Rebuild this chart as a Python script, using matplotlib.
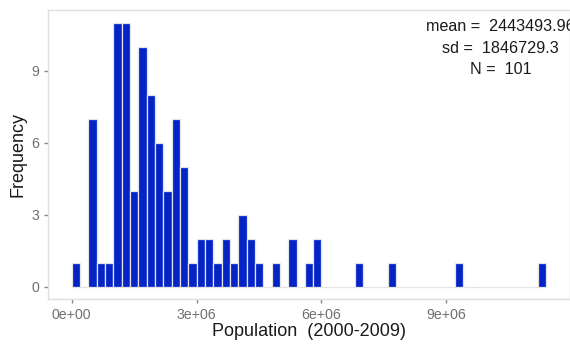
import matplotlib.pyplot as plt

plt.rcParams['font.family'] = ['Liberation Sans', 'DejaVu Sans']

# histogram of population, bins of 200,000 starting at 0
bin_width = 200000
counts = [1, 0, 7, 1, 1, 11, 11, 4, 10, 8, 6, 4, 7, 5, 1, 2, 2, 1, 2, 1,
          3, 2, 1, 0, 1, 0, 2, 0, 1, 2, 0, 0, 0, 0, 1, 0, 0, 0, 1, 0,
          0, 0, 0, 0, 0, 0, 1, 0, 0, 0, 0, 0, 0, 0, 0, 0, 1]
bin_starts = [i * bin_width for i in range(len(counts))]

y_ticks = [0, 3, 6, 9]
x_ticks = [0, 3e6, 6e6, 9e6]
x_tick_labels = ['0e+00', '3e+06', '6e+06', '9e+06']

stats_lines = ['mean =  2443493.96', 'sd =  1846729.3', 'N =  101']

fig = plt.figure(figsize=(5.7, 3.47), dpi=100)
ax = fig.add_axes([0.0842, 0.1383, 0.9158, 0.8315])

ax.bar(bin_starts, counts, width=bin_width, align='edge',
       color='#0524c8', edgecolor='#e4e4e4', linewidth=0.9)

ax.set_xlim(-0.57e6, 11.97e6)
ax.set_ylim(-0.5, 11.5)

ax.set_xticks(x_ticks)
ax.set_xticklabels(x_tick_labels)
ax.set_yticks(y_ticks)

for s in ax.spines.values():
    s.set_color('#dedede')
    s.set_linewidth(1.0)

ax.tick_params(axis='both', colors='#8a8a8a', labelcolor='#707070',
               labelsize=10.2, length=3, width=1)

ax.set_xlabel('Population  (2000-2009)', fontsize=13, color='#1a1a1a', labelpad=1)
ax.set_ylabel('Frequency', fontsize=13, color='#1a1a1a', labelpad=3)

# summary statistics in the top right
for y, line in zip([10.84, 9.92, 9.04], stats_lines):
    ax.text(10.3e6, y, line, ha='center', va='center', fontsize=11.6,
            color='#1a1a1a', clip_on=False)

fig.savefig('out.png', dpi=100)
